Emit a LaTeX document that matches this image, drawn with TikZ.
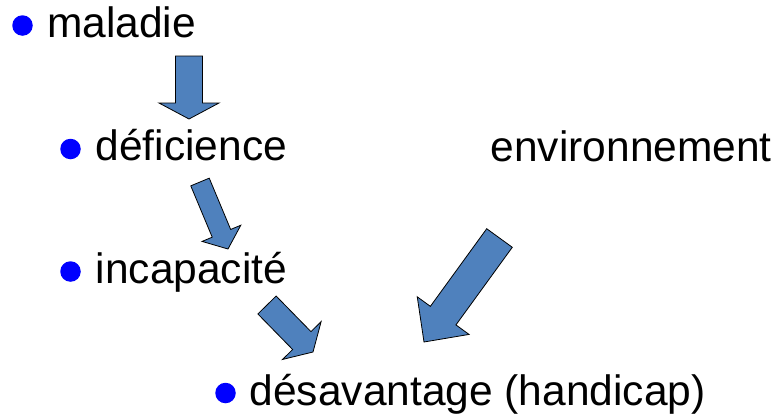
\documentclass[tikz,border=0pt]{standalone}
\usepackage{fontspec}
\setmainfont{Liberation Sans}
\usetikzlibrary{calc}
\definecolor{arrowfill}{HTML}{4F81BD}
\definecolor{bulletblue}{HTML}{0000FF}
\tikzset{
  itemtext/.style={anchor=base west, inner sep=0pt, font=\fontsize{42.5}{48}\selectfont},
  bulletdot/.style={circle, fill=bulletblue, inner sep=0pt, minimum size=20.5pt},
  blockarrow/.style={fill=arrowfill, draw=black, line width=0.8pt, line join=miter}
}
% block arrow: #1 tail centre, #2 tip, #3 shaft half-width, #4 head half-width, #5 head length
\newcommand{\blockarrow}[5]{%
  \coordinate (hb) at ($(#2)!#5!(#1)$);
  \filldraw[blockarrow]
    ($(#1)!#3!90:(#2)$) -- ($(hb)!#3!90:(#2)$) -- ($(hb)!#4!90:(#2)$) -- (#2)
    -- ($(hb)!#4!-90:(#2)$) -- ($(hb)!#3!-90:(#2)$) -- ($(#1)!#3!-90:(#2)$) -- cycle;
}
\begin{document}
\begin{tikzpicture}[x=1pt, y=-1pt]
  \useasboundingbox (0,0) rectangle (778,418);

  % items
  \node[bulletdot] (b1) at (22.5,25.5) {};
  \node[itemtext] (maladie) at (47,37) {maladie};
  \node[bulletdot] (b2) at (70.5,149) {};
  \node[itemtext] (deficience) at (95.5,160.5) {déficience};
  \node[itemtext] (env) at (490.5,161) {environnement};
  \node[bulletdot] (b3) at (70.5,271.5) {};
  \node[itemtext] (incapacite) at (95.5,283) {incapacité};
  \node[bulletdot] (b4) at (225.5,393) {};
  \node[itemtext] (desavantage) at (249.5,405) {désavantage (handicap)};

  % arrow end points
  \coordinate (a1s) at (189,56);   \coordinate (a1e) at (189,119);
  \coordinate (a2s) at (200,182);  \coordinate (a2e) at (228,249);
  \coordinate (a3s) at (267,305);  \coordinate (a3e) at (313,352);
  \coordinate (a4s) at (499.5,238); \coordinate (a4e) at (424,342);

  \blockarrow{a1s}{a1e}{13.5pt}{30pt}{16pt}
  \blockarrow{a2s}{a2e}{10pt}{21pt}{17pt}
  \blockarrow{a3s}{a3e}{12.8pt}{27pt}{16pt}
  \blockarrow{a4s}{a4e}{15.8pt}{32pt}{32.6pt}
\end{tikzpicture}
\end{document}
